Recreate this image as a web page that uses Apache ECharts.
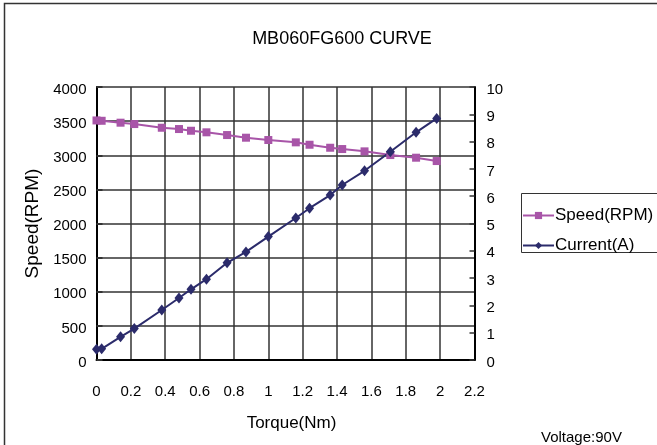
<!DOCTYPE html>
<html>
<head>
<meta charset="utf-8">
<script src="https://cdn.jsdelivr.net/npm/echarts@6/dist/echarts.min.js"></script>
<style>
  html, body { margin: 0; padding: 0; background: #fff; }
  #chart { width: 657px; height: 445px; }
</style>
</head>
<body>
<div id="chart"></div>
<script>
// Torque (Nm) at each measured point
const torque = [0, 0.03, 0.14, 0.22, 0.38, 0.48, 0.55, 0.64, 0.76, 0.87, 1.0,
                1.16, 1.24, 1.36, 1.43, 1.56, 1.71, 1.86, 1.98];
// Motor speed (RPM)
const speed = [3510, 3505, 3477, 3457, 3403, 3384, 3359, 3336, 3296, 3257, 3223,
               3189, 3154, 3110, 3091, 3057, 3003, 2964, 2915];
// Motor current (A)
const current = [0.39, 0.41, 0.85, 1.15, 1.83, 2.27, 2.59, 2.96, 3.56, 3.96, 4.52,
                 5.20, 5.56, 6.04, 6.41, 6.93, 7.63, 8.34, 8.85];

const titleText = 'MB060FG600 CURVE';
const noteText = 'Voltage:90V';

const FONT = '"Liberation Sans", Arial, sans-serif';
const speedColor = '#a855a8';
const currentColor = '#2b2b6b';
const gridLine = { color: '#333', width: 1.5 };
const plain = v => String(v);

const chart = echarts.init(document.getElementById('chart'), null, { renderer: 'canvas' });

chart.setOption({
  animation: false,
  backgroundColor: '#fff',
  textStyle: { fontFamily: FONT, color: '#000' },
  title: {
    text: titleText,
    left: 337,
    textAlign: 'center',
    top: 25,
    textStyle: { fontFamily: FONT, fontSize: 18, fontWeight: 'normal', color: '#000' }
  },
  legend: {
    orient: 'vertical',
    left: 521,
    top: 193,
    itemGap: 13,
    itemWidth: 31,
    itemHeight: 9,
    padding: [14, 0, 0, 1],
    textStyle: { fontFamily: FONT, fontSize: 17, color: '#000', padding: [0, 0, 0, -4] },
    data: ['Speed(RPM)', 'Current(A)']
  },
  grid: { left: 96.5, right: 182.5, top: 87, bottom: 85, containLabel: false },
  xAxis: {
    type: 'value',
    min: 0,
    max: 2.2,
    interval: 0.2,
    name: 'Torque(Nm)',
    nameLocation: 'middle',
    nameGap: 55,
    nameTextStyle: { fontFamily: FONT, fontSize: 17, color: '#000', padding: [0, 0, 0, 12] },
    axisLine: { lineStyle: { color: '#000', width: 2 } },
    axisTick: { show: false },
    axisLabel: { margin: 24, fontSize: 15, color: '#000', fontFamily: FONT, formatter: plain },
    splitLine: { show: true, lineStyle: gridLine }
  },
  yAxis: [
    {
      type: 'value',
      min: 0,
      max: 4000,
      interval: 500,
      name: 'Speed(RPM)',
      nameLocation: 'middle',
      nameGap: 54,
      nameTextStyle: { fontFamily: FONT, fontSize: 19, color: '#000' },
      axisLine: { show: true, lineStyle: { color: '#000', width: 2 } },
      axisTick: { show: true, inside: true, length: 6, lineStyle: { color: '#333', width: 2 } },
      axisLabel: { margin: 10, fontSize: 15, color: '#000', fontFamily: FONT, formatter: plain,
                   verticalAlign: 'top', lineHeight: 5 },
      splitLine: { show: true, lineStyle: gridLine }
    },
    {
      type: 'value',
      min: 0,
      max: 10,
      interval: 1,
      position: 'right',
      axisLine: { show: true, lineStyle: { color: '#000', width: 2 } },
      axisTick: { show: true, inside: true, length: 5, lineStyle: { color: '#333', width: 1.5 } },
      axisLabel: { margin: 12, fontSize: 15, color: '#000', fontFamily: FONT, formatter: plain,
                   verticalAlign: 'top', lineHeight: 5 },
      splitLine: { show: false }
    }
  ],
  series: [
    {
      name: 'Speed(RPM)',
      type: 'line',
      yAxisIndex: 0,
      data: torque.map((t, i) => [t, speed[i]]),
      symbol: 'rect',
      symbolSize: 8,
      color: speedColor,
      lineStyle: { color: speedColor, width: 2 },
      itemStyle: { color: speedColor }
    },
    {
      name: 'Current(A)',
      type: 'line',
      yAxisIndex: 1,
      data: torque.map((t, i) => [t, current[i]]),
      symbol: 'diamond',
      symbolSize: [9, 11],
      color: currentColor,
      lineStyle: { color: currentColor, width: 2 },
      itemStyle: { color: currentColor }
    }
  ],
  graphic: [
    {
      type: 'polyline',
      shape: { points: [[4.5, 445], [4.5, 3.5], [657, 3.5]] },
      style: { fill: 'none', stroke: '#333', lineWidth: 1.5 },
      silent: true,
      z: -1
    },
    {
      type: 'rect',
      shape: { x: 521.5, y: 193.5, width: 200, height: 59 },
      style: { fill: 'none', stroke: '#333', lineWidth: 1 },
      silent: true,
      z: -1
    },
    {
      type: 'text',
      left: 541,
      top: 430,
      style: { text: noteText, font: '15px ' + FONT, fill: '#000' }
    }
  ]
});
</script>
</body>
</html>
